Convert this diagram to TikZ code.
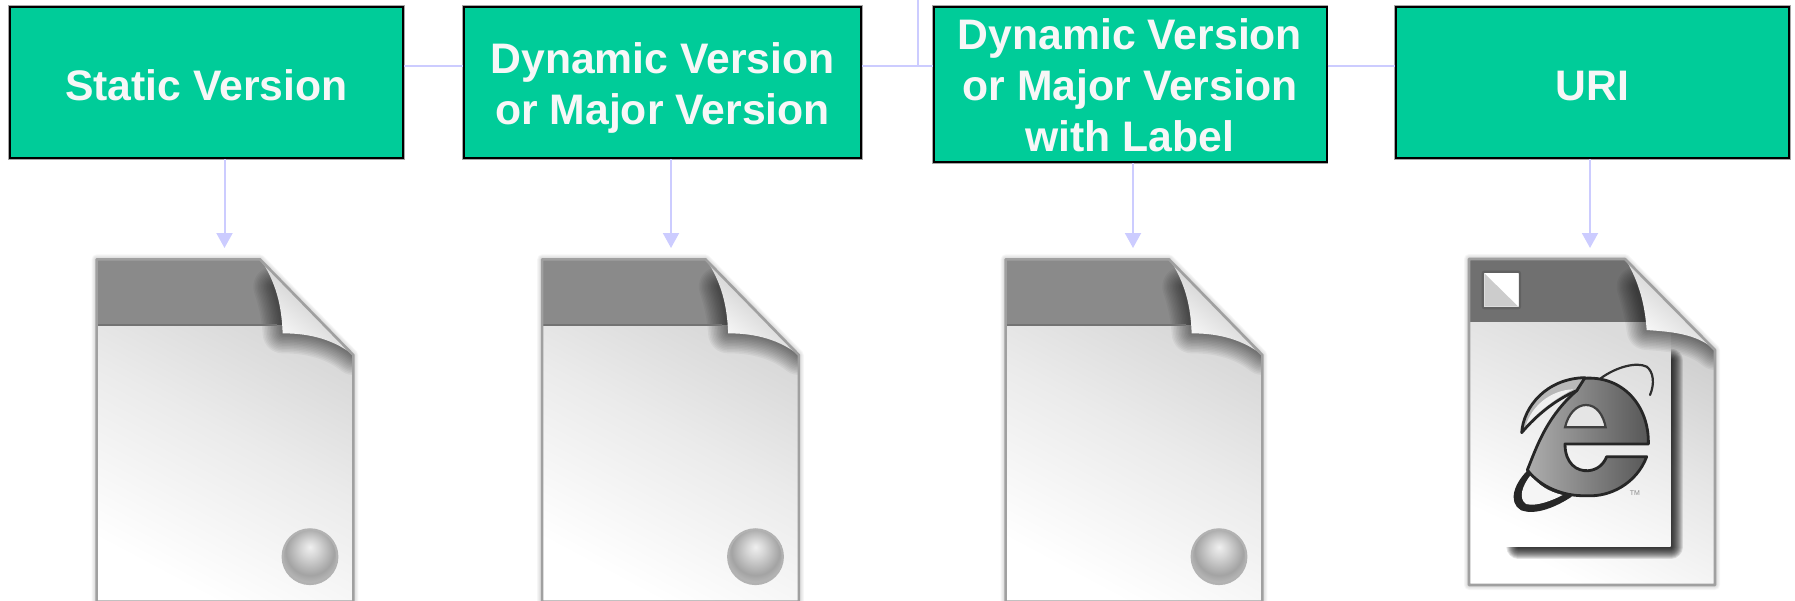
\documentclass[tikz,border=0pt]{standalone}
\usepackage{fontspec}
\setmainfont{Liberation Sans}
\usetikzlibrary{arrows.meta}
\definecolor{boxgreen}{HTML}{00CC99}
\definecolor{linkblue}{HTML}{CCCCFF}
\definecolor{boxtext}{HTML}{F7F7F7}
\definecolor{pageedge}{HTML}{A0A0A0}
\pgfdeclareradialshading{ballsh}{\pgfpoint{0bp}{9bp}}{color(0bp)=(white!94!black); color(8bp)=(white!84!black); color(22bp)=(white!64!black); color(34bp)=(white!80!black); color(50bp)=(white!80!black)}
\tikzset{
  verbox/.style={draw=black,line width=2pt,fill=boxgreen,text=boxtext,inner sep=0pt,align=center,
    font=\fontsize{42.7}{51}\selectfont\bfseries,preaction={draw=gray!70,line width=3.2pt}},
  link/.style={draw=linkblue,line width=2pt},
  arrowlink/.style={link,-{Triangle[length=15pt,width=16pt,fill=linkblue]}},
  pageline/.style={draw=pageedge,line width=2.6pt,line join=round},
  softline/.style={black,opacity=.045,line cap=round,line join=round}
}
\newcommand{\pageglow}[1]{\foreach \w in {10,8,6,4}{\draw[gray,line width=\w pt,opacity=.07,line join=round] #1;}}
\newcommand{\plainicon}[1]{%
\begin{scope}[shift={(60+#1,140)},x=0.33333pt,y=-0.33333pt]
  \def\pagepath{(110,358)--(600,358)--(880,645)--(880,1385)--(110,1385)--cycle}
  \pageglow{\pagepath}
  \begin{scope}
    \clip \pagepath;
    \shade[shading=axis,top color=white!82!black,bottom color=white,middle color=white!92!black,shading angle=-28] (108,355) rectangle (880,1385);
    \fill[white!54!black] (108,355) rectangle (680,555);
    \foreach \w in {40,37,34,31,28,25,22,19,16,13,10,7,4}{
      \draw[softline,line width=\w pt] (640,440) .. controls (660,500) and (665,540) .. (668,580) .. controls (730,580) and (810,590) .. (880,645);}
    \draw[white!45!black,line width=1.2pt] (110,555)--(650,555);
    \shade[top color=white!72!black,bottom color=white,shading angle=-40] (600,355) .. controls (650,430) and (665,500) .. (668,580) .. controls (730,580) and (810,590) .. (880,645) -- cycle;
  \end{scope}
  \draw[pageline] \pagepath;
  \shade[shading=ballsh,draw=white!70!black,line width=2.2pt] (750,1250) circle (82);
\end{scope}}
\begin{document}
\begin{tikzpicture}[x=1pt,y=-1pt]
\clip (0,0) rectangle (1795,600);
\useasboundingbox (0,0) rectangle (1795,600);
% icons
\plainicon{0}
\plainicon{445.5}
\plainicon{909}
\begin{scope}[shift={(1440,230)},x=0.33333pt,y=-0.33333pt]
  \def\pagepath{(87,87)--(555,87)--(825,360)--(825,1065)--(87,1065)--cycle}
  \pageglow{\pagepath}
  \begin{scope}
    \clip \pagepath;
    \shade[shading=axis,top color=white!78!black,bottom color=white,middle color=white!90!black,shading angle=-28] (85,85) rectangle (825,1065);
    \foreach \w in {24,22,20,18,16,14,12,10,8,6,4,2}{
      \draw[black,line width=\w pt,opacity=.11,line cap=round,line join=round] (235,950)--(692,950)--(692,392);}
    \shade[shading=axis,top color=white!86!black,bottom color=white,shading angle=-25] (92,278) rectangle (692,950);
    \fill[white!44!black] (85,85) rectangle (625,275);
    \foreach \w in {40,37,34,31,28,25,22,19,16,13,10,7,4}{
      \draw[softline,line width=\w pt] (590,170) .. controls (605,220) and (615,260) .. (620,300) .. controls (690,305) and (770,310) .. (825,360);}
    \shade[top color=white!74!black,bottom color=white,shading angle=-40] (555,85) .. controls (600,160) and (615,230) .. (620,300) .. controls (690,305) and (770,310) .. (825,360) -- cycle;
  \end{scope}
  \draw[pageline] \pagepath;
  % small square
  \fill[white] (128,125) rectangle (240,235);
  \fill[white!80!black] (133,130)--(133,230)--(235,230)--cycle;
  \draw[white!38!black,line width=2.2pt,rounded corners=2pt] (128,125) rectangle (240,235);
  % logo
  \draw[white!18!black,line width=2.2pt,line cap=round] (482,445) .. controls (530,410) and (590,395) .. (620,410) .. controls (640,425) and (645,460) .. (630,495);
  \filldraw[draw=white!15!black,fill=white!15!black,line width=2.8pt,line join=round] (275,715) .. controls (225,760) and (208,815) .. (245,837) .. controls (285,852) and (345,828) .. (392,797) .. controls (340,785) and (300,755) .. (275,715) -- cycle;
  \fill[white!96!black] (272,735) .. controls (245,770) and (235,805) .. (258,822) .. controls (290,830) and (335,812) .. (368,795) .. controls (325,785) and (295,765) .. (272,735) -- cycle;
  \shade[draw=white!15!black,line width=2.8pt,line join=round,shading=axis,left color=white!68!black,right color=white!34!black]
    (262,720) .. controls (290,650) and (320,560) .. (410,482) -- (430,445) 
    .. controls (550,435) and (628,530) .. (625,642) -- (375,642) .. controls (375,700) and (410,725) .. (445,722) .. controls (470,720) and (490,705) .. (500,680) -- (620,680)
    .. controls (590,760) and (510,802) .. (440,797) .. controls (370,800) and (300,770) .. (262,720) -- cycle;
  \filldraw[draw=white!15!black,fill=white!72!black,line width=2.8pt,line join=round] (245,608) .. controls (250,530) and (320,445) .. (435,443) -- (410,482) .. controls (345,510) and (290,555) .. (245,608) -- cycle;
  \fill[white!94!black] (258,585) .. controls (275,530) and (330,480) .. (400,478) .. controls (345,505) and (295,545) .. (258,585) -- cycle;
  \filldraw[draw=white!25!black,fill=white!90!black,line width=2.2pt] (375,592) .. controls (385,550) and (410,525) .. (438,525) .. controls (470,525) and (490,555) .. (497,592) -- cycle;
  \node[text=white!55!black,font=\fontsize{7}{7}\selectfont,inner sep=0pt] (tm) at (585,788) {TM};
\end{scope}
% coordinates
\coordinate (bus) at (918,66);
\coordinate (top) at (918,0);
\coordinate (t1) at (224.5,248);
\coordinate (t2) at (671,248);
\coordinate (t3) at (1133,248);
\coordinate (t4) at (1590,248);
\node[verbox,minimum width=393pt,minimum height=151pt] (b1) at (206.5,82.5) {\rule{0pt}{36pt}Static Version};
\node[verbox,minimum width=397pt,minimum height=151pt] (b2) at (662.5,82.5) {\rule{0pt}{42pt}Dynamic Version\\or Major Version};
\node[verbox,minimum width=393pt,minimum height=155pt] (b3) at (1130,84.5) {\rule{0pt}{33pt}Dynamic Version\\or Major Version\\with Label};
\node[verbox,minimum width=393pt,minimum height=151pt] (b4) at (1592.5,82.5) {\rule{0pt}{36pt}URI};
\draw[link] (b1.east |- bus) -- (b2.west |- bus);
\draw[link] (b2.east |- bus) -- (b3.west |- bus);
\draw[link] (b3.east |- bus) -- (b4.west |- bus);
\draw[link] (top) -- (bus);
\draw[arrowlink] (b1.south -| t1) -- (t1);
\draw[arrowlink] (b2.south -| t2) -- (t2);
\draw[arrowlink] (b3.south -| t3) -- (t3);
\draw[arrowlink] (b4.south -| t4) -- (t4);
\end{tikzpicture}
\end{document}
